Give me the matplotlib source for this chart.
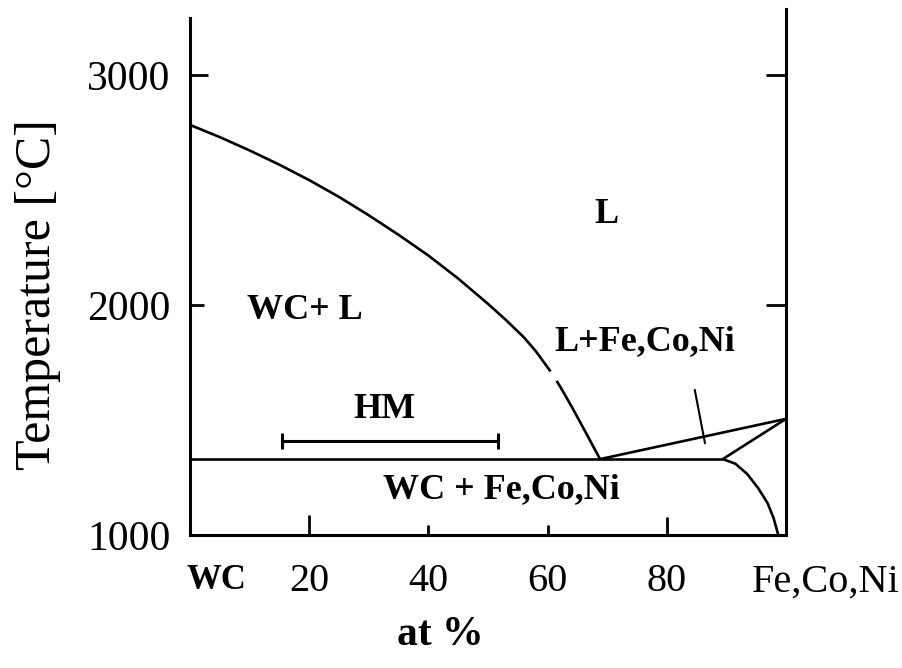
import matplotlib
matplotlib.use("Agg")
import matplotlib.pyplot as plt

plt.rcParams['font.family'] = ['Liberation Serif', 'DejaVu Serif']

# ---- data (at% Fe,Co,Ni ; temperature in degC) ----
liq_wc_upper_x = [0, 5, 10, 15, 20, 25, 30, 35, 40, 45, 50, 53, 56, 58, 60.5]
liq_wc_upper_t = [2783, 2730, 2672, 2610, 2543, 2470, 2390, 2305, 2215, 2115, 2005, 1935, 1860, 1800, 1711]
liq_wc_lower_x = [61.5, 62, 64, 66, 68.8]
liq_wc_lower_t = [1670, 1650, 1560, 1465, 1330]

eutectic_x = [0, 89.4]
eutectic_t = [1330, 1330]

liq_fe_x = [68.8, 100]
liq_fe_t = [1330, 1505]

sol_fe_x = [89.4, 100]
sol_fe_t = [1330, 1505]

solvus_x = [89.4, 91.5, 93.5, 95.3, 96.9, 97.9, 98.7]
solvus_t = [1330, 1310, 1265, 1205, 1139, 1075, 1000]

pointer_x = [84.7, 86.4]
pointer_t = [1630, 1400]

hm_x = [15.4, 51.7]
hm_t = [1410, 1410]

x_ticks = [20, 40, 60, 80]
x_tick_labels = ['20', '40', '60', '80']
y_ticks = [1000, 2000, 3000]
y_tick_labels = ['1000', '2000', '3000']

region_labels = ['L', 'WC+ L', 'L+Fe,Co,Ni', 'HM', 'WC + Fe,Co,Ni']
region_x = [69.8, 19.3, 76.3, 32.6, 52.2]
region_t = [2394, 1976, 1841, 1545, 1196]

# ---- figure ----
fig = plt.figure(figsize=(9.03, 6.68), dpi=100)
ax = fig.add_axes([190/903, 1 - 535/668, (786 - 190)/903, (535 - 9)/668])

lw = 1.9
kw = dict(color='black', lw=lw, solid_capstyle='butt', solid_joinstyle='round')
ax.plot(liq_wc_upper_x, liq_wc_upper_t, **kw)
ax.plot(liq_wc_lower_x, liq_wc_lower_t, **kw)
ax.plot(eutectic_x, eutectic_t, **kw)
ax.plot(liq_fe_x, liq_fe_t, **kw)
ax.plot(sol_fe_x, sol_fe_t, **kw)
ax.plot(solvus_x, solvus_t, **kw)
ax.plot(pointer_x, pointer_t, color='black', lw=1.5)
ax.plot(hm_x, hm_t, color='black', lw=2.2, marker='|', markersize=11, markeredgewidth=2.2)

for s, x, t in zip(region_labels, region_x, region_t):
    ax.text(x, t, s, ha='center', va='center', fontsize=26, fontweight='bold')

ax.set_xlim(0, 100)
ax.set_ylim(1000, 3287)

ax.spines['top'].set_visible(False)
ax.spines['left'].set_bounds(1000, 3248)
for sp in ['left', 'right', 'bottom']:
    ax.spines[sp].set_linewidth(2.2)

ax.set_xticks(x_ticks)
ax.set_xticklabels(x_tick_labels)
ax.set_yticks(y_ticks)
ax.set_yticklabels(y_tick_labels)
ax.tick_params(axis='x', direction='in', width=2, labelsize=29, pad=20)
ax.tick_params(axis='y', direction='in', width=2, labelsize=30, pad=14, right=True)

xlens = [20, 10, 10, 18]
for tk, L in zip(ax.xaxis.get_major_ticks(), xlens):
    tk.tick1line.set_markersize(L * 0.72)
ylens = [0, 14, 18]
for tk, L in zip(ax.yaxis.get_major_ticks(), ylens):
    tk.tick1line.set_markersize(L * 0.72)
    tk.tick2line.set_markersize(20 * 0.72 if L else 0)

ax.text(4.5, -29/526, 'WC', transform=ax.get_xaxis_transform(), ha='center', va='top',
        fontsize=25, fontweight='bold')
ax.text(106.7, -29/526, 'Fe,Co,Ni', transform=ax.get_xaxis_transform(), ha='center', va='top',
        fontsize=29, clip_on=False)

ax.set_xlabel('at %', fontsize=30, fontweight='bold')
ax.set_ylabel('Temperature [°C]', fontsize=36)
ax.xaxis.set_label_coords((440 - 190)/596, (535 - 635)/526)
ax.yaxis.set_label_coords((38 - 190)/596, (535 - 295)/526)
ax.xaxis.label.set_va('center')
ax.yaxis.label.set_va('center')

fig.savefig('out.png', dpi=100)
